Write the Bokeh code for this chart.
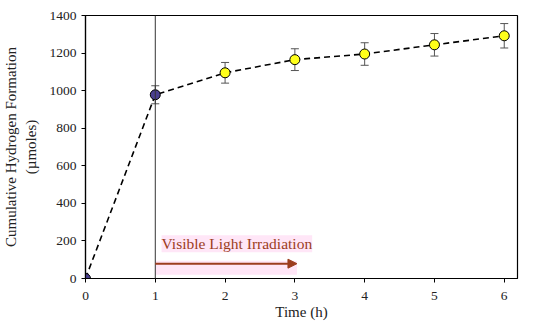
from bokeh.plotting import figure
from bokeh.models import Range1d, Span, Whisker, ColumnDataSource, Arrow, NormalHead, Label, FixedTicker, TeeHead
from bokeh.embed import file_html
from bokeh.resources import INLINE

time_h = [0, 1, 2, 3, 4, 5, 6]
hydrogen = [0, 978, 1095, 1165, 1195, 1244, 1292]
err = [0, 48, 55, 58, 60, 60, 65]
colors = ["#4a3f8f", "#4a3f8f", "#ffff1a", "#ffff1a", "#ffff1a", "#ffff1a", "#ffff1a"]
x_ticks = [0, 1, 2, 3, 4, 5, 6]
y_ticks = [0, 200, 400, 600, 800, 1000, 1200, 1400]
FONT = "Liberation Serif"

p = figure(width=534, height=322, output_backend="svg", toolbar_location=None,
           x_range=Range1d(0, 6.19), y_range=Range1d(0, 1400),
           min_border_left=77, min_border_right=17, min_border_top=15, min_border_bottom=42)
p.grid.visible = False
p.outline_line_color = "black"
p.outline_line_width = 1.2

for ax in (p.xaxis, p.yaxis):
    ax.major_label_text_font = FONT
    ax.major_label_text_font_size = "13.5px"
    ax.major_label_text_color = "#222222"
    ax.axis_label_text_font = FONT
    ax.axis_label_text_font_style = "normal"
    ax.axis_label_text_color = "#222222"
    ax.minor_tick_line_color = None
    ax.major_tick_out = 4
    ax.major_tick_in = 0
    ax.axis_line_width = 1.2

p.xaxis.ticker = FixedTicker(ticks=x_ticks)
p.yaxis.ticker = FixedTicker(ticks=y_ticks)
p.xaxis.axis_label = "Time (h)"
p.xaxis.axis_label_text_font_size = "15px"
p.xaxis.major_label_standoff = 9
p.xaxis.axis_label_standoff = 1
p.yaxis.axis_label = "Cumulative Hydrogen Formation\n(µmoles)"
p.yaxis.axis_label_text_font_size = "15px"
p.yaxis.axis_label_standoff = 8

# highlight boxes behind annotation
p.quad(left=1.0, right=3.03, bottom=20, top=95, fill_color="#ffe6f7", line_color=None)

p.add_layout(Span(location=1, dimension="height", line_color="#333333", line_width=1))

src = ColumnDataSource(dict(x=time_h, y=hydrogen,
                            upper=[h + e for h, e in zip(hydrogen, err)],
                            lower=[h - e for h, e in zip(hydrogen, err)],
                            c=colors))
p.line("x", "y", source=src, line_color="black", line_width=1.6, line_dash="6 4")
w = Whisker(base="x", upper="upper", lower="lower", source=src, line_color="#555555", line_width=1,
            upper_head=TeeHead(size=8, line_color="#555555", line_width=1),
            lower_head=TeeHead(size=8, line_color="#555555", line_width=1))
p.add_layout(w)
p.scatter("x", "y", source=src, size=10, fill_color="c", line_color="black", line_width=1)

p.add_layout(Arrow(end=NormalHead(size=9, fill_color="#9c3d1e", line_color="#9c3d1e"),
                   x_start=1, y_start=79, x_end=3.03, y_end=79,
                   line_color="#9c3d1e", line_width=2))
p.add_layout(Label(x=1.09, y=140, text="Visible Light Irradiation", text_font=FONT,
                   text_font_size="15.5px", text_color="#9c3d1e",
                   background_fill_color="#ffe6f7"))

open("out.html", "w").write(file_html(p, INLINE))
